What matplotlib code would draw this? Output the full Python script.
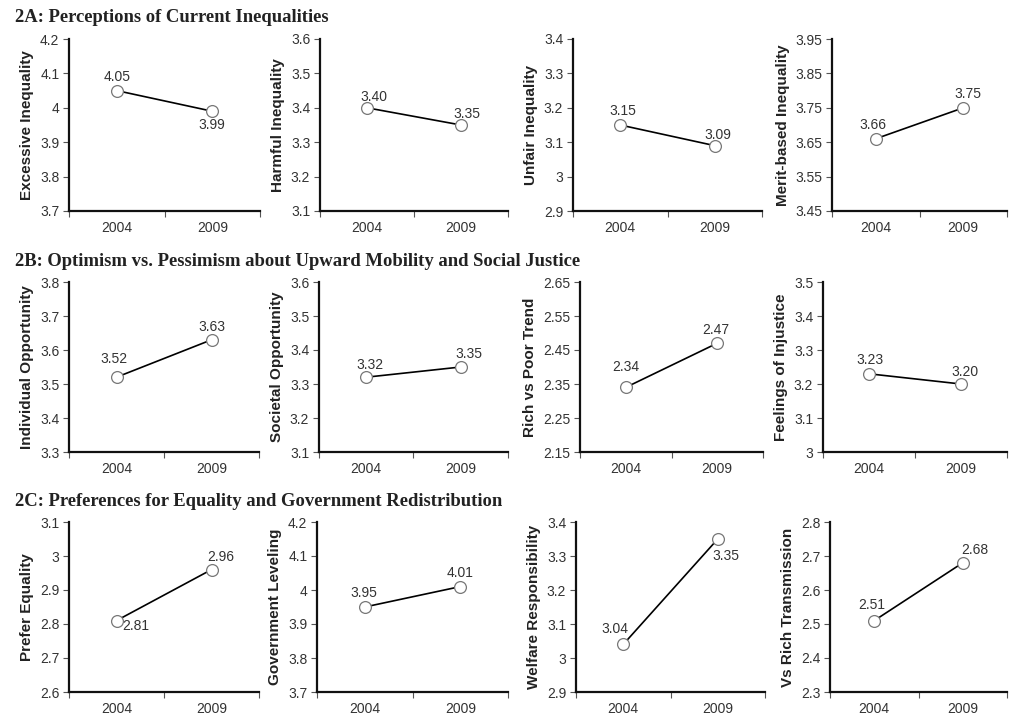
import numpy as np
import matplotlib
matplotlib.use("Agg")
from matplotlib import pyplot as plt

plt.rcParams['font.family'] = ['Liberation Sans', 'DejaVu Sans']

years = ['2004', '2009']

section_titles = ['2A: Perceptions of Current Inequalities',
                  '2B: Optimism vs. Pessimism about Upward Mobility and Social Justice',
                  '2C: Preferences for Equality and Government Redistribution']

# row 2A
labels_a = ['Excessive Inequality', 'Harmful Inequality', 'Unfair Inequality', 'Merit-based Inequality']
values_a = [[4.05, 3.99], [3.40, 3.35], [3.15, 3.09], [3.66, 3.75]]
ylims_a = [(3.7, 4.2), (3.1, 3.6), (2.9, 3.4), (3.45, 3.95)]

# row 2B
labels_b = ['Individual Opportunity', 'Societal Opportunity', 'Rich vs Poor Trend', 'Feelings of Injustice']
values_b = [[3.52, 3.63], [3.32, 3.35], [2.34, 2.47], [3.23, 3.20]]
ylims_b = [(3.3, 3.8), (3.1, 3.6), (2.15, 2.65), (3.0, 3.5)]

# row 2C
labels_c = ['Prefer Equality', 'Government Leveling', 'Welfare Responsibility', 'Vs Rich Transmission']
values_c = [[2.81, 2.96], [3.95, 4.01], [3.04, 3.35], [2.51, 2.68]]
ylims_c = [(2.6, 3.1), (3.7, 4.2), (2.9, 3.4), (2.3, 2.8)]

rows = [(labels_a, values_a, ylims_a), (labels_b, values_b, ylims_b), (labels_c, values_c, ylims_c)]

# placement of the value labels (offset in points from each marker)
label_offsets = [
    [[(0, 10), (0, -10)], [(5, 8), (4, 8)], [(2, 10), (2, 8)], [(-2, 10), (3.5, 10)]],
    [[(-2, 13), (0, 9)], [(3, 9), (6, 9)], [(0, 15), (-1, 9.5)], [(1, 10), (3, 9)]],
    [[(14, -4), (7, 9)], [(-1, 10), (0, 10)], [(-6, 11), (6, -12)], [(-2, 11.5), (9, 9.5)]],
]

W, H = 1009, 717
fig = plt.figure(figsize=(W / 100, H / 100), dpi=100)

# axes boxes in pixels: (left, right) per panel, (top, bottom) per row
row_y = [(39, 211), (282, 452), (522, 692)]
panel_x = [
    [(69, 260), (320, 508), (573, 762), (832, 1007)],
    [(69, 259), (319, 508), (580, 763), (823, 1007)],
    [(69, 259), (317, 508), (576, 765), (830, 1007)],
]
title_y = [18, 261, 502]

for r, (labs, vals, lims) in enumerate(rows):
    fig.text(15 / W, 1 - title_y[r] / H, section_titles[r], family='Liberation Serif',
             fontweight='bold', fontsize=13.4, va='center', ha='left', color='#222222')
    top, bot = row_y[r]
    for c in range(4):
        left, right = panel_x[r][c]
        ax = fig.add_axes([left / W, 1 - bot / H, (right - left) / W, (bot - top) / H])
        lo, hi = lims[c]
        ax.plot([0.5, 1.5], vals[c], color='black', lw=1.2, marker='o', ms=8.5,
                mfc='white', mec='#777777', mew=0.9, zorder=3)
        for i, v in enumerate(vals[c]):
            ax.annotate('%.2f' % v, (0.5 + i, v), xytext=label_offsets[r][c][i],
                        textcoords='offset points', ha='center', va='center',
                        fontsize=10, color='#333333')
        ax.set_xlim(0, 2)
        ax.set_ylim(lo, hi)
        ax.set_xticks([0, 1, 2])
        ax.set_xticklabels([])
        ax.set_xticks([0.5, 1.5], minor=True)
        ax.set_xticklabels(years, minor=True, fontsize=10, color='#333333')
        ax.tick_params(axis='x', which='minor', length=0, pad=7)
        ax.tick_params(axis='x', which='major', length=4, color='#555555')
        yt = np.linspace(lo, hi, 6)
        ax.set_yticks(yt)
        ax.set_yticklabels(['%g' % round(t, 2) for t in yt], fontsize=10, color='#333333')
        ax.tick_params(axis='y', length=4, color='#555555', pad=3)
        for s in ['top', 'right']:
            ax.spines[s].set_visible(False)
        for s in ['left', 'bottom']:
            ax.spines[s].set_linewidth(1.6)
            ax.spines[s].set_color('#111111')
        ax.set_ylabel(labs[c], fontsize=11, fontweight='bold', color='#222222', labelpad=4)

fig.savefig('out.png', dpi=100)
